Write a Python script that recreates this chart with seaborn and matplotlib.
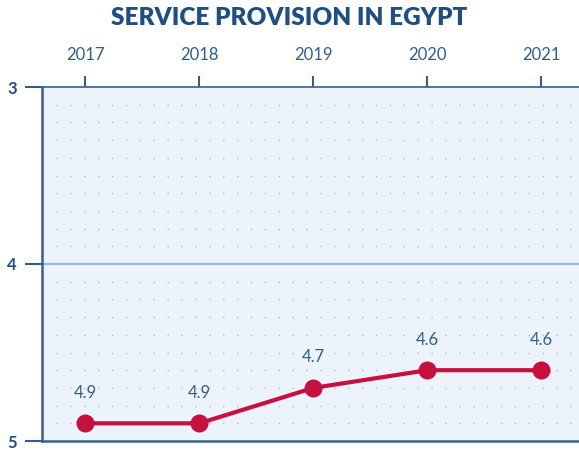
import numpy as np
import pandas as pd
import matplotlib.pyplot as plt
import seaborn as sns

# Service provision in Egypt
years = [2017, 2018, 2019, 2020, 2021]
scores = [4.9, 4.9, 4.7, 4.6, 4.6]
score_labels = ['4.9', '4.9', '4.7', '4.6', '4.6']

df = pd.DataFrame({'year': years, 'score': scores})

sns.set_style('white')
plt.rcParams['font.family'] = ['Lato', 'DejaVu Sans']

dark = '#1d4e86'
tick_col = '#2f5f8c'
red = '#c8103e'

fig = plt.figure(figsize=(5.79, 4.5), dpi=100)
ax = fig.add_axes([42 / 579, 1 - 441 / 450, 1 - 42 / 579, (441 - 87) / 450])
ax.set_facecolor('#edf3fb')

# dotted rows every 0.1
for y in np.arange(3.1, 5.0, 0.1):
    if abs(y - 4) < 1e-6:
        continue
    ax.axhline(y, color='#b4bcc8', lw=1.0, ls=(0, (1, 9)), zorder=1)
ax.axhline(4, color='#9dbcd8', lw=1.6, zorder=1)

sns.lineplot(data=df, x='year', y='score', ax=ax, color=red, lw=3,
             marker='o', markersize=13, markeredgewidth=0, zorder=3)

for x, y, t in zip(years, scores, score_labels):
    ax.annotate(t, (x, y), xytext=(0, 22), textcoords='offset points',
                ha='center', va='center', fontsize=12, color=tick_col)

ax.set_xlim(2016.62, 2021.33)
ax.set_ylim(5, 3)
ax.set_xticks(years)
ax.set_yticks([3, 4, 5])
ax.xaxis.tick_top()
ax.tick_params(axis='x', top=True, bottom=False, direction='out', length=8, width=1.5,
               color=tick_col, labelcolor=tick_col, labelsize=12, pad=9)
ax.tick_params(axis='y', left=True, direction='out', length=12, width=1.5, color=tick_col,
               labelcolor=dark, labelsize=12, pad=6)
for lab in ax.get_yticklabels():
    lab.set_fontweight('bold')
ax.set_xlabel('')
ax.set_ylabel('')

for s in ['left', 'bottom', 'top']:
    ax.spines[s].set_color('#34618f')
    ax.spines[s].set_linewidth(1.8)
ax.spines['top'].set_linewidth(1.2)
ax.spines['right'].set_visible(False)

fig.text(0.5, 1 - 18 / 450, 'SERVICE PROVISION IN EGYPT', ha='center', va='center',
         fontsize=17.5, fontweight='heavy', color=dark)

fig.savefig('out.png', dpi=100)
